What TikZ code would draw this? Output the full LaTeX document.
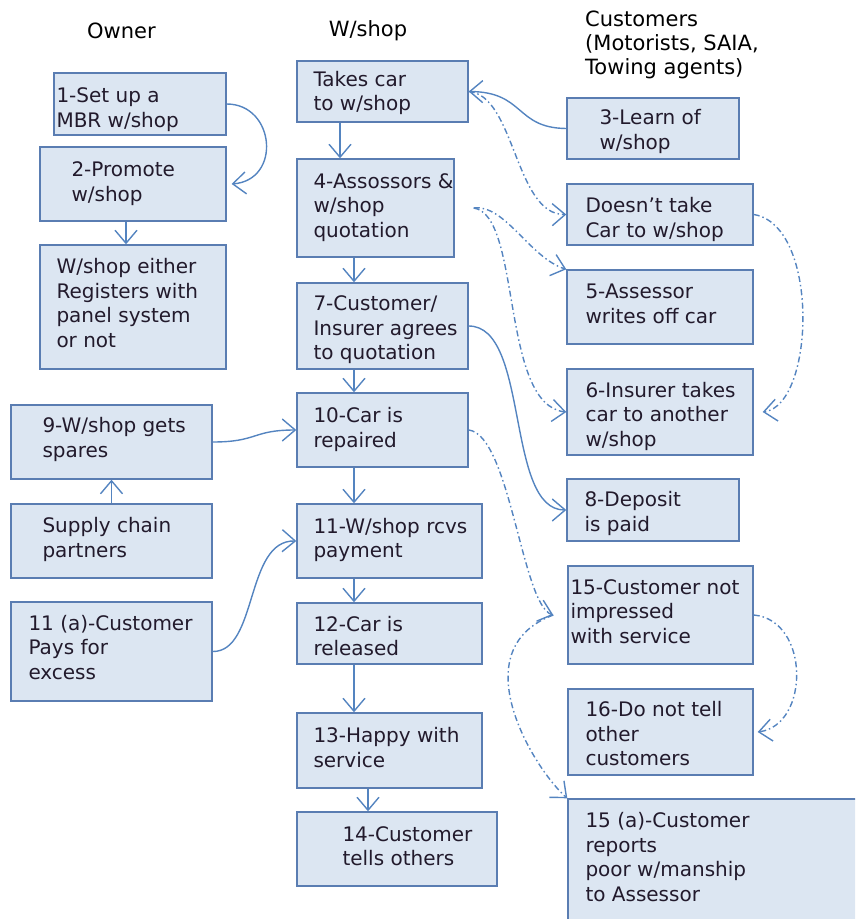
\documentclass[tikz,border=0pt]{standalone}
\usepackage{fontspec}
\setmainfont{DejaVu Sans}
\usepackage{tikz}
\usetikzlibrary{arrows.meta, calc}

\definecolor{boxfill}{HTML}{DCE6F2}
\definecolor{boxline}{HTML}{5A7DB2}
\definecolor{linkblue}{HTML}{5484C0}
\definecolor{textdark}{HTML}{221A2C}

\begin{document}
\begin{tikzpicture}[x=1pt, y=-1pt]
 \tikzstyle{box}=[rectangle, draw=boxline, fill=boxfill, line width=1.4pt, inner sep=0]
 \tikzstyle{txt}=[anchor=west, align=left, inner sep=0, text=textdark, font=\fontsize{20}{24.5}\selectfont]
 \tikzstyle{head}=[inner sep=0, text=black, font=\fontsize{21}{24}\selectfont]
 \tikzstyle{arr}=[-{Straight Barb[length=13pt, width=22pt, line width=1.4pt]}, draw=linkblue, line width=1.4pt]
 \tikzstyle{darr}=[arr, dash pattern=on 6pt off 3pt on 1.5pt off 3pt]

 \useasboundingbox (0,0) rectangle (855,919);
 \clip (0,0) rectangle (855,919);

 % Headings
 \node (howner) at (121.5,31) [head] {Owner};
 \node (hshop) at (368,31) [head] {W/shop};
 \node (hcust) at (585,45) [head, anchor=west, align=left] {Customers\\(Motorists, SAIA,\\Towing agents)};

 % Owner column
 \node (nsetup) at (140,104) [box, minimum width=172, minimum height=62] {};
 \node (tsetup) at ([xshift=3, yshift=-5.5]nsetup.west) [txt] {1-Set up a\\MBR w/shop};
 \node (npromote) at (133,184) [box, minimum width=186, minimum height=74] {};
 \node (tpromote) at ([xshift=32, yshift=0.5]npromote.west) [txt] {2-Promote\\w/shop};
 \node (nregister) at (133,307) [box, minimum width=186, minimum height=124] {};
 \node (tregister) at ([xshift=17, yshift=4]nregister.west) [txt] {W/shop either\\Registers with\\panel system\\or not};
 \node (nspares) at (111.5,442) [box, minimum width=201, minimum height=74] {};
 \node (tspares) at ([xshift=32, yshift=2.5]nspares.west) [txt] {9-W/shop gets\\spares};
 \node (nsupply) at (111.5,541) [box, minimum width=201, minimum height=74] {};
 \node (tsupply) at ([xshift=32, yshift=1.5]nsupply.west) [txt] {Supply chain\\partners};
 \node (nexcess) at (111.5,651.5) [box, minimum width=201, minimum height=99] {};
 \node (texcess) at ([xshift=18, yshift=4]nexcess.west) [txt] {11 (a)-Customer\\Pays for\\excess};

 % W/shop column
 \node (ntake) at (382.5,91.5) [box, minimum width=171, minimum height=61] {};
 \node (ttake) at ([xshift=17, yshift=-1.5]ntake.west) [txt] {Takes car\\to w/shop};
 \node (nquote) at (375.5,208) [box, minimum width=157, minimum height=98] {};
 \node (tquote) at ([xshift=17, yshift=0.5]nquote.west) [txt] {4-Assossors \&\\w/shop\\quotation};
 \node (nagree) at (382.5,326) [box, minimum width=171, minimum height=86] {};
 \node (tagree) at ([xshift=17, yshift=-4]nagree.west) [txt] {7-Customer/\\Insurer agrees\\to quotation};
 \node (nrepair) at (382.5,430) [box, minimum width=171, minimum height=74] {};
 \node (trepair) at ([xshift=17, yshift=0.5]nrepair.west) [txt] {10-Car is\\repaired};
 \node (npayment) at (389.5,541) [box, minimum width=185, minimum height=74] {};
 \node (tpayment) at ([xshift=17, yshift=1]npayment.west) [txt] {11-W/shop rcvs\\payment};
 \node (nrelease) at (389.5,633.5) [box, minimum width=185, minimum height=61] {};
 \node (trelease) at ([xshift=17, yshift=-2.5]nrelease.west) [txt] {12-Car is\\released};
 \node (nhappy) at (389.5,750.5) [box, minimum width=185, minimum height=75] {};
 \node (thappy) at ([xshift=17, yshift=3]nhappy.west) [txt] {13-Happy with\\service};
 \node (ntell) at (397,849) [box, minimum width=200, minimum height=74] {};
 \node (ttell) at ([xshift=46, yshift=3]ntell.west) [txt] {14-Customer\\tells others};

 % Customers column
 \node (nlearn) at (653,128.5) [box, minimum width=172, minimum height=61] {};
 \node (tlearn) at ([xshift=33, yshift=-3]nlearn.west) [txt] {3-Learn of\\w/shop};
 \node (ndoesnt) at (660,214.5) [box, minimum width=186, minimum height=61] {};
 \node (tdoesnt) at ([xshift=19, yshift=-5]ndoesnt.west) [txt] {Doesn’t take\\Car to w/shop};
 \node (nwriteoff) at (660,307) [box, minimum width=186, minimum height=74] {};
 \node (twriteoff) at ([xshift=19, yshift=3]nwriteoff.west) [txt] {5-Assessor\\writes off car};
 \node (nanother) at (660,412) [box, minimum width=186, minimum height=86] {};
 \node (tanother) at ([xshift=19, yshift=-4]nanother.west) [txt] {6-Insurer takes\\car to another\\w/shop};
 \node (ndeposit) at (653,510) [box, minimum width=172, minimum height=62] {};
 \node (tdeposit) at ([xshift=18, yshift=-3.5]ndeposit.west) [txt] {8-Deposit\\is paid};
 \node (nimpress) at (660.5,615) [box, minimum width=185, minimum height=98] {};
 \node (timpress) at ([xshift=3, yshift=3.5]nimpress.west) [txt] {15-Customer not\\impressed\\with service};
 \node (nnottell) at (660.5,732) [box, minimum width=185, minimum height=86] {};
 \node (tnottell) at ([xshift=18, yshift=-2]nnottell.west) [txt] {16-Do not tell\\other\\customers};
 \node (nreport) at (719,864.5) [box, minimum width=302, minimum height=131] {};
 \node (treport) at ([xshift=18, yshift=7.5]nreport.west) [txt] {15 (a)-Customer\\reports\\poor w/manship\\to Assessor};

 % Owner flow
 \draw [arr] (nsetup.east) .. controls (275,104) and (282,180) .. ([xshift=5]npromote.east);
 \draw [arr] ([xshift=-7]npromote.south) -- ([xshift=-7]nregister.north);
 \draw [arr] (nsupply.north) -- (nspares.south);
 \draw [arr] (nspares.east) .. controls (258,442) and (252,430) .. (nrepair.west);
 \draw [arr] (nexcess.east) .. controls (258,652) and (245,540) .. (npayment.west);

 % W/shop flow
 \draw [arr] ([xshift=-42.5]ntake.south) -- ([xshift=-35.5]nquote.north);
 \draw [arr] ([xshift=-21.5]nquote.south) -- ([xshift=-28.5]nagree.north);
 \draw [arr] ([xshift=-28.5]nagree.south) -- ([xshift=-28.5]nrepair.north);
 \draw [arr] ([xshift=-28.5]nrepair.south) -- ([xshift=-35.5]npayment.north);
 \draw [arr] ([xshift=-35.5]npayment.south) -- ([xshift=-35.5]nrelease.north);
 \draw [arr] ([xshift=-35.5]nrelease.south) -- ([xshift=-35.5]nhappy.north);
 \draw [arr] ([xshift=-21.5]nhappy.south) -- ([xshift=-29]ntell.north);

 % Customers
 \draw [arr] (nlearn.west) .. controls (515,128) and (525,92) .. (ntake.east);
 \draw [arr] (nagree.east) .. controls (530,326) and (505,510) .. (ndeposit.west);

 % Other outcomes
 \draw [darr] (ntake.east) .. controls (515,95) and (515,215) .. (ndoesnt.west);
 \draw [darr] ([xshift=19]nquote.east) .. controls (505,204) and (530,258) .. (nwriteoff.north west);
 \draw [darr] ([xshift=19]nquote.east) .. controls (522,215) and (500,405) .. (nanother.west);
 \draw [darr] (ndoesnt.east) .. controls (820,225) and (815,405) .. ([xshift=9]nanother.east);
 \draw [darr] (nrepair.east) .. controls (510,435) and (522,605) .. ([xshift=-14]nimpress.west);
 \draw [darr] (nimpress.east) .. controls (810,620) and (810,725) .. ([xshift=4]nnottell.east);
 \draw [darr] ([xshift=-14]nimpress.west) .. controls (460,650) and (535,770) .. (nreport.north west);

\end{tikzpicture}
\end{document}
